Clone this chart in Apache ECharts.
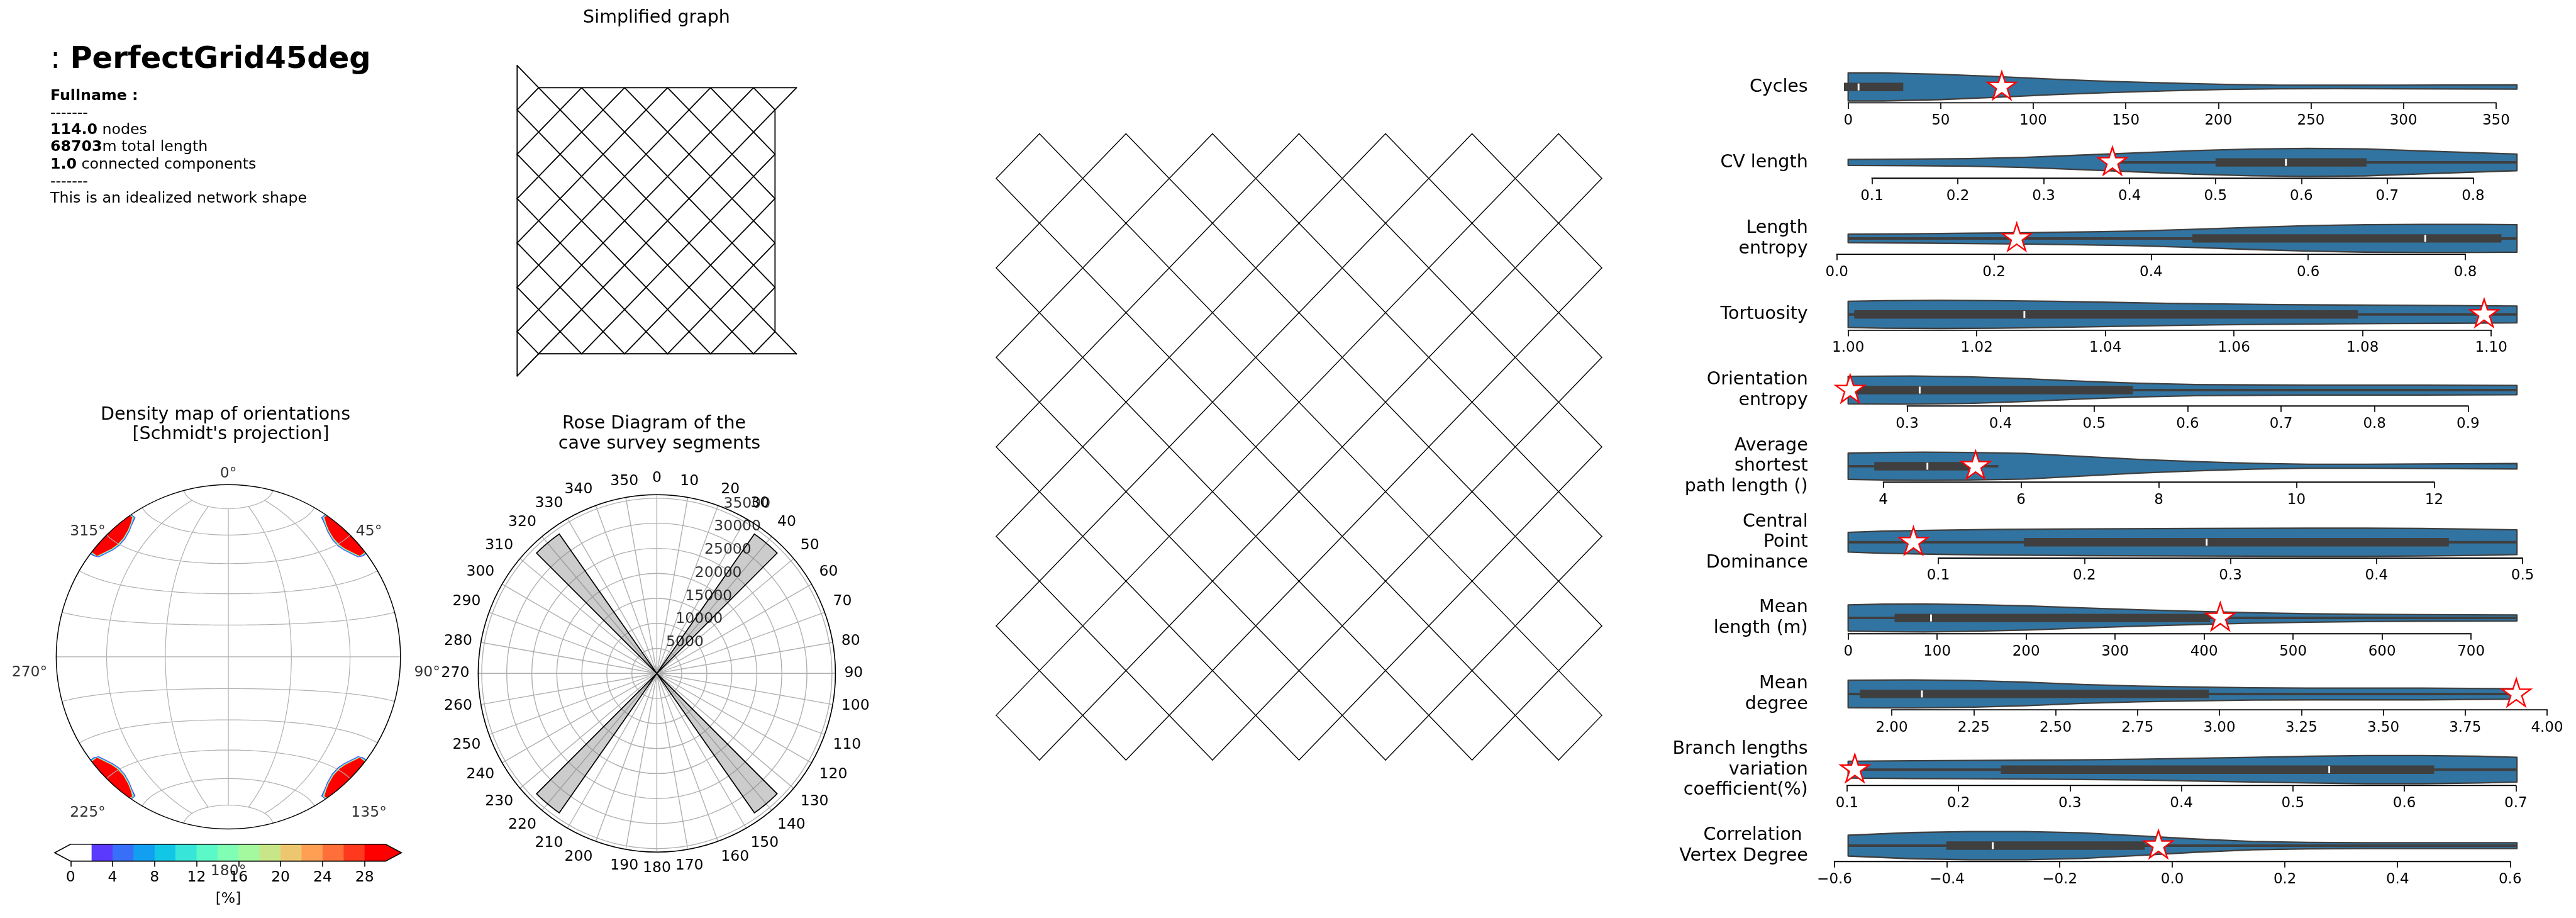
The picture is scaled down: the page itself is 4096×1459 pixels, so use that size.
<!DOCTYPE html>
<html>
<head>
<meta charset="utf-8">
<script src="https://cdn.jsdelivr.net/npm/echarts@6/dist/echarts.min.js"></script>
<style>
html,body{margin:0;padding:0;background:#fff;}
#c{width:4096px;height:1459px;}
</style>
</head>
<body>
<div id="c"></div>
<script>
// ================= DATA =================
const networkName = 'PerfectGrid45deg';
const infoBold = ['Fullname :', '', '114.0', '68703', '1.0', '', ''];
const infoRest = ['', '-------', ' nodes', 'm total length', ' connected components', '-------', 'This is an idealized network shape'];

// main network: 45deg lattice, lines x+y=c and x-y=c inside a square of side netSize
const netSize = 14;
const netSumConsts = [1,3,5,7,9,11,13,15,17,19,21,23,25,27];
const netDiffConsts = [-13,-11,-9,-7,-5,-3,-1,1,3,5,7,9,11,13];

// simplified graph edges [x1,y1,x2,y2]
const simpEdges = [
  [0,-0.5,6.5,6],[1.5,0,6,4.5],[2.5,0,6,3.5],[3.5,0,6,2.5],[4.5,0,6,1.5],[5.5,0,6,0.5],
  [0,0.5,5.5,6],[0,1.5,4.5,6],[0,2.5,3.5,6],[0,3.5,2.5,6],[0,4.5,1.5,6],[0,5.5,0.5,6],
  [0,0.5,0.5,0],[0,1.5,1.5,0],[0,2.5,2.5,0],[0,3.5,3.5,0],[0,4.5,4.5,0],[0,5.5,5.5,0],[0,6.5,6.5,0],
  [1.5,6,6,1.5],[2.5,6,6,2.5],[3.5,6,6,3.5],[4.5,6,6,4.5],[5.5,6,6,5.5],
  [0,-0.5,0,6.5],[0.5,0,6.5,0],[6,0.5,6,5.5],[0.5,6,6.5,6]
];

// stereonet (Schmidt net)
const stereoParallels = [-75,-60,-45,-30,-15,0,15,30,45,60,75];
const stereoMeridians = [-60,-30,0,30,60];
const stereoLabelAz = [0,45,90,135,180,225,270,315];
const blobCenters = [45,135,225,315];
const blobMirror = [1,-1,1,-1];
const blobRimOffsets = [-10,-7,-4,-1,2,5,7.5];
const blobInnerOffsets = [7.5,7.5,6.6,2.3,-0.3,-3.5,-6.7,-8.7,-10.5];
const blobInnerR = [0.99,0.962,0.955,0.925,0.917,0.921,0.94,0.96,0.985];

// colorbar
const cbLevels = [2,4,6,8,10,12,14,16,18,20,22,24,26,28,30];
const cbColors = ['#5b39fd','#376ff9','#129ff1','#12c7e6','#37e6d8','#5bf9c7','#80ffb4','#a4f99f','#c8e688','#edc76f','#ff9f54','#ff6f39','#ff391d','#ff0000'];
const cbTicks = [0,4,8,12,16,20,24,28];

// rose diagram
const roseBinCenters = [40,140,220,320];
const roseValues = [34000,34000,34000,34000];
const roseBinWidth = 10;
const roseRingTicks = [5000,10000,15000,20000,25000,30000,35000];
const roseRMax = 35700;
const roseLabelAngle = 22.5;

// violins
const vioNames = ['Cycles','CV length','Length\nentropy','Tortuosity','Orientation\nentropy','Average\nshortest\npath length ()','Central\nPoint\nDominance','Mean\nlength (m)','Mean\ndegree','Branch lengths\nvariation\ncoefficient(%)','Correlation \nVertex Degree'];
const vioRange = [[0,361.3],[0.0723,0.851],[0.0144,0.8657],[1.0,1.104],[0.2369,0.9523],[3.489,13.203],[0.0383,0.4961],[0,751.6],[1.867,3.908],[0.101,0.701],[-0.5758,0.6121]];
const vioTicks = [
  [0,50,100,150,200,250,300,350],
  [0.1,0.2,0.3,0.4,0.5,0.6,0.7,0.8],
  [0,0.2,0.4,0.6,0.8],
  [1.00,1.02,1.04,1.06,1.08,1.10],
  [0.3,0.4,0.5,0.6,0.7,0.8,0.9],
  [4,6,8,10,12],
  [0.1,0.2,0.3,0.4,0.5],
  [0,100,200,300,400,500,600,700],
  [2.00,2.25,2.50,2.75,3.00,3.25,3.50,3.75,4.00],
  [0.1,0.2,0.3,0.4,0.5,0.6,0.7],
  [-0.6,-0.4,-0.2,0,0.2,0.4,0.6]
];
const vioTickDecimals = [0,1,1,2,1,0,1,0,2,1,1];
const vioProfX = [
  [0,19,50,80,111,141,172,203,233,264,295,325,361.3],
  [0.0723,0.146,0.212,0.278,0.344,0.410,0.476,0.542,0.608,0.674,0.740,0.806,0.851],
  [0.0144,0.095,0.168,0.24,0.312,0.384,0.456,0.528,0.601,0.673,0.745,0.817,0.8657],
  [1.0,1.0055,1.0143,1.0231,1.0319,1.0407,1.0496,1.0584,1.0672,1.076,1.0848,1.0936,1.104],
  [0.2369,0.305,0.366,0.426,0.487,0.548,0.608,0.669,0.730,0.790,0.851,0.9523],
  [3.489,4.0,4.58,5.24,6.06,6.88,7.71,8.53,9.36,10.18,11.01,11.83,13.203],
  [0.0383,0.062,0.101,0.14,0.198,0.276,0.354,0.392,0.431,0.47,0.4961],
  [0,40,85,136,200,263,327,391,455,518,582,646,751.6],
  [1.867,2.06,2.234,2.407,2.58,2.753,2.926,3.1,3.27,3.45,3.62,3.908],
  [0.101,0.158,0.209,0.26,0.311,0.362,0.413,0.464,0.515,0.565,0.616,0.667,0.701],
  [-0.5758,-0.463,-0.362,-0.261,-0.161,-0.06,0.041,0.142,0.242,0.343,0.444,0.6121]
];
const vioProfW = [
  [1.0,1.0,0.90,0.74,0.55,0.40,0.28,0.18,0.13,0.12,0.13,0.14,0.15],
  [0.21,0.23,0.27,0.36,0.52,0.68,0.84,0.95,1.0,0.96,0.82,0.68,0.59],
  [0.30,0.33,0.37,0.40,0.46,0.53,0.65,0.79,0.91,0.98,1.0,1.0,0.98],
  [0.93,0.98,1.0,0.98,0.93,0.86,0.79,0.74,0.70,0.67,0.65,0.63,0.60],
  [0.98,1.0,0.95,0.81,0.63,0.49,0.40,0.37,0.35,0.35,0.35,0.33],
  [0.93,0.98,1.0,0.98,0.91,0.70,0.49,0.33,0.21,0.14,0.14,0.16,0.19],
  [0.70,0.79,0.86,0.91,0.95,0.98,1.0,1.0,0.98,0.93,0.88],
  [0.93,0.98,1.0,0.95,0.86,0.72,0.58,0.47,0.37,0.30,0.26,0.23,0.21],
  [0.98,1.0,0.95,0.84,0.67,0.56,0.49,0.44,0.42,0.42,0.42,0.37],
  [0.60,0.63,0.65,0.67,0.70,0.74,0.81,0.88,0.95,1.0,1.0,0.95,0.88],
  [0.74,0.93,1.0,1.0,0.91,0.70,0.47,0.30,0.23,0.21,0.21,0.21]
];
const vioQ1 = [0,0.505,0.458,1.0016,0.2485,3.93,0.1615,57,1.916,0.2418,-0.394];
const vioQ3 = [27.5,0.671,0.8406,1.0786,0.537,5.20,0.4466,402,2.955,0.6229,-0.0564];
const vioMedian = [5.6,0.582,0.749,1.0274,0.3134,4.64,0.2837,93.1,2.092,0.5326,-0.319];
const vioWhisker = [[0,27.5],[0.375,0.851],[0.0144,0.8657],[1.0,1.104],[0.2369,0.9523],[3.489,5.67],[0.0383,0.4961],[0,751.6],[1.867,3.908],[0.101,0.701],[-0.5758,0.6121]];
const vioStar = [83,0.38,0.229,1.0989,0.239,5.34,0.083,418.2,3.906,0.107,-0.0247];

// ================= LAYOUT / STYLE =================
const FF = '"DejaVu Sans", sans-serif';
const fnt = (s, b) => (b ? 'bold ' : '') + s + 'px ' + FF;
const L = {
  net: {left:1584, top:212.4, width:963, height:995.6},
  simp: {left:822.3, top:104.1, width:444.2, height:493.4},
  stereo: {cx:363.1, cy:1043.9, r:273.7, lim:1.3},
  cb: {left:86.9, top:1341.8, width:551.5, height:26.8, ext:1.52},
  rose: {cx:1044.4, cy:1070.3, r:284},
  vio: {left:2938.7, width:1063.4, half:22.3, ylim:1.13, labelX:2874.7,
        centers:[138.2,258.1,378.9,499.7,620.0,741.0,861.8,982.1,1102.9,1223.2,1344.0]}
};

const grids = [], xAxes = [], yAxes = [], series = [], graphics = [];
const hidden = (gridIndex, min, max, inverse) => ({gridIndex, type:'value', min, max, inverse:!!inverse, show:false,
  axisLine:{show:false, onZero:false}, axisTick:{show:false}, axisLabel:{show:false}, splitLine:{show:false}});
function addGrid(g) { grids.push(Object.assign({outerBoundsMode:'none', containLabel:false, show:false}, g)); return grids.length - 1; }

// ---------- main network ----------
const netSegs = [];
netSumConsts.forEach(c => { const x0 = Math.max(0, c - netSize), x1 = Math.min(netSize, c); netSegs.push([x0, c - x0, x1, c - x1]); });
netDiffConsts.forEach(c => { const x0 = Math.max(0, c), x1 = Math.min(netSize, netSize + c); netSegs.push([x0, x0 - c, x1, x1 - c]); });
function segSeries(gi, data, w) {
  return {type:'custom', coordinateSystem:'cartesian2d', xAxisIndex:gi, yAxisIndex:gi, silent:true, clip:false,
    encode:{x:[0,2], y:[1,3]}, data,
    renderItem:(p, api) => {
      const a = api.coord([api.value(0), api.value(1)]), b = api.coord([api.value(2), api.value(3)]);
      return {type:'line', shape:{x1:a[0], y1:a[1], x2:b[0], y2:b[1]}, style:{stroke:'#000', lineWidth:w, lineCap:'round'}};
    }};
}
let gi = addGrid(L.net);
xAxes.push(hidden(gi, 0, netSize)); yAxes.push(hidden(gi, 0, netSize, true));
series.push(segSeries(gi, netSegs, 1.4));

// ---------- simplified graph ----------
gi = addGrid(L.simp);
xAxes.push(hidden(gi, 0, 6.5)); yAxes.push(hidden(gi, -0.5, 6.5, true));
series.push(segSeries(gi, simpEdges, 1.8));

// ---------- stereonet ----------
const D2R = Math.PI / 180;
function proj(lon, lat) {
  const cl = Math.cos(lat * D2R), k = Math.sqrt(1 + cl * Math.cos(lon * D2R));
  return [cl * Math.sin(lon * D2R) / k, Math.sin(lat * D2R) / k];
}
const polarPt = (az, r) => [r * Math.sin(az * D2R), r * Math.cos(az * D2R)];
const stereoPolys = [];
stereoParallels.forEach(lat => { const pts = []; for (let lon = -90; lon <= 90; lon += 2) pts.push(proj(lon, lat)); stereoPolys.push(pts); });
stereoMeridians.forEach(lon => { const pts = []; for (let lat = -75; lat <= 75; lat += 2) pts.push(proj(lon, lat)); stereoPolys.push(pts); });
const S = L.stereo;
gi = addGrid({left:S.cx - S.lim * S.r, top:S.cy - S.lim * S.r, width:2 * S.lim * S.r, height:2 * S.lim * S.r});
xAxes.push(hidden(gi, -S.lim, S.lim)); yAxes.push(hidden(gi, -S.lim, S.lim));
// blobs
const blobLayers = [['#5b39fd',0.013,0.8],['#12c7e6',0.009,0.55],['#80ffb4',0.006,0.35],['#edc76f',0.003,0.15],['#ff0000',0,0]];
series.push({type:'custom', coordinateSystem:'cartesian2d', xAxisIndex:gi, yAxisIndex:gi, silent:true, clip:false,
  data: blobCenters.map((c, i) => [0, 0, i]),
  renderItem:(p, api) => {
    const i = api.value(2), c = blobCenters[i], m = blobMirror[i];
    const kids = blobLayers.map(([col, dr, da]) => {
      const pts = [];
      blobRimOffsets.forEach((o, j) => {
        let oo = o; if (j === 0) oo -= da; if (j === blobRimOffsets.length - 1) oo += da;
        pts.push(api.coord(polarPt(c + m * oo, 1)));
      });
      blobInnerOffsets.forEach((o, j) => {
        let oo = o; if (j === 0) oo += da; if (j === blobInnerOffsets.length - 1) oo -= da;
        pts.push(api.coord(polarPt(c + m * oo, blobInnerR[j] - dr)));
      });
      return {type:'polygon', shape:{points:pts}, style:{fill:col}};
    });
    return {type:'group', children:kids};
  }});
// graticule
series.push({type:'custom', coordinateSystem:'cartesian2d', xAxisIndex:gi, yAxisIndex:gi, silent:true, clip:false,
  data: stereoPolys.map((q, i) => [0, 0, i]),
  renderItem:(p, api) => ({type:'polyline', shape:{points:stereoPolys[api.value(2)].map(q => api.coord(q))},
    style:{stroke:'#b0b0b0', lineWidth:1.2, fill:'none'}})});
// rim
series.push({type:'custom', coordinateSystem:'cartesian2d', xAxisIndex:gi, yAxisIndex:gi, silent:true, clip:false,
  data:[[0,0]],
  renderItem:(p, api) => {
    const c = api.coord([0, 0]), r = api.size([1, 1])[0];
    return {type:'circle', shape:{cx:c[0], cy:c[1], r}, style:{stroke:'#000', lineWidth:1.5, fill:'none'}};
  }});
// azimuth labels
series.push({type:'scatter', xAxisIndex:gi, yAxisIndex:gi, silent:true, symbolSize:1, itemStyle:{color:'rgba(0,0,0,0)'},
  data: stereoLabelAz.map(az => { const q = polarPt(az, 1.155); return {value:[q[0], q[1] - 0.09], name:az + '\u00b0'}; }),
  label:{show:true, position:'inside', formatter:p => p.name, fontSize:23.5, fontFamily:FF, color:'#000'}});

// ---------- colorbar ----------
const C = L.cb;
gi = addGrid({left:C.left, top:C.top, width:C.width, height:C.height});
xAxes.push({gridIndex:gi, type:'value', min:-C.ext, max:30 + C.ext, axisLine:{show:false, onZero:false}, splitLine:{show:false},
  axisTick:{show:true, customValues:cbTicks, length:9, lineStyle:{color:'#000', width:1.6}},
  axisLabel:{show:true, customValues:cbTicks, formatter:v => String(v), margin:14, fontSize:23.5, fontFamily:FF, color:'#000'}});
yAxes.push(hidden(gi, 0, 1));
series.push({type:'custom', coordinateSystem:'cartesian2d', xAxisIndex:gi, yAxisIndex:gi, silent:true, clip:false,
  data:[[0,0]],
  renderItem:(p, api) => {
    const kids = [];
    const rect = (x0, x1, col) => { const a = api.coord([x0, 1]), b = api.coord([x1, 0]);
      return {type:'rect', shape:{x:a[0], y:a[1], width:b[0] - a[0] + 0.5, height:b[1] - a[1]}, style:{fill:col}}; };
    kids.push(rect(0, cbLevels[0], '#ffffff'));
    for (let i = 0; i < cbColors.length; i++) kids.push(rect(cbLevels[i], cbLevels[i + 1], cbColors[i]));
    const last = cbLevels[cbLevels.length - 1];
    kids.push({type:'polygon', shape:{points:[api.coord([0,1]), api.coord([-C.ext,0.5]), api.coord([0,0])]}, style:{fill:'#ffffff'}});
    kids.push({type:'polygon', shape:{points:[api.coord([last,1]), api.coord([last + C.ext,0.5]), api.coord([last,0])]}, style:{fill:cbColors[cbColors.length - 1]}});
    kids.push({type:'polygon', shape:{points:[api.coord([0,1]), api.coord([last,1]), api.coord([last + C.ext,0.5]), api.coord([last,0]), api.coord([0,0]), api.coord([-C.ext,0.5])]},
      style:{fill:'none', stroke:'#000', lineWidth:1.6}});
    return {type:'group', children:kids};
  }});

// ---------- rose diagram (polar) ----------
series.push({type:'custom', coordinateSystem:'polar', polarIndex:0, silent:true, clip:false,
  data: roseBinCenters.map((c, i) => [roseValues[i], c]),
  renderItem:(p, api) => {
    const r = api.value(0), c = api.value(1), pts = [api.coord([0, c])];
    for (let a = c - roseBinWidth / 2; a <= c + roseBinWidth / 2 + 1e-9; a += 0.5) pts.push(api.coord([r, a]));
    return {type:'polygon', shape:{points:pts}, style:{fill:'rgba(128,128,128,0.4)', stroke:'#000', lineWidth:1.7, lineJoin:'miter'}};
  }});
series.push({type:'scatter', coordinateSystem:'polar', polarIndex:0, silent:true, symbolSize:1, itemStyle:{color:'rgba(0,0,0,0)'},
  data: roseRingTicks.map(v => [v, roseLabelAngle]),
  label:{show:true, position:[0,0], align:'left', verticalAlign:'bottom', formatter:p => String(p.value[0]), fontSize:23.5, fontFamily:FF, color:'#000'}});

// ---------- violins ----------
const V = L.vio;
const starPath = (() => { let d = ''; for (let i = 0; i < 10; i++) { const R = i % 2 ? 38.1966 : 100, a = -Math.PI / 2 + i * Math.PI / 5;
  d += (i ? 'L' : 'M') + (R * Math.cos(a)).toFixed(3) + ' ' + (R * Math.sin(a)).toFixed(3) + ' '; } return 'path://' + d + 'Z'; })();
vioNames.forEach((name, k) => {
  const [vMin, vMax] = vioRange[k], ticks = vioTicks[k];
  const ppu = V.width / (vMax - vMin);
  const aMin = Math.min(vMin, ticks[0]), aMax = Math.max(vMax, ticks[ticks.length - 1]);
  const yc = V.centers[k];
  const g = addGrid({left:V.left - (vMin - aMin) * ppu, width:(aMax - aMin) * ppu, top:yc - V.ylim * V.half, height:2 * V.ylim * V.half});
  const dec = vioTickDecimals[k];
  xAxes.push({gridIndex:g, type:'value', position:'bottom', min:aMin, max:aMax, axisLine:{show:false, onZero:false}, splitLine:{show:false},
    axisTick:{show:true, inside:false, customValues:ticks, length:9.5, lineStyle:{color:'#000', width:1.7}},
    axisLabel:{show:true, customValues:ticks, margin:17, fontSize:23, fontFamily:FF, color:'#000',
      formatter:v => v.toFixed(dec).replace('-', '\u2212')}});
  yAxes.push(hidden(g, -V.ylim, V.ylim));
  series.push({type:'custom', coordinateSystem:'cartesian2d', xAxisIndex:g, yAxisIndex:g, silent:true, clip:false,
    data:[[vMin, 0]],
    renderItem:(p, api) => {
      const X = vioProfX[k], W = vioProfW[k];
      const top = X.map((x, i) => api.coord([x, W[i]]));
      const bot = X.map((x, i) => api.coord([x, -W[i]])).reverse();
      const kids = [];
      kids.push({type:'polygon', shape:{points:top.concat(bot)}, style:{fill:'#3274a1', stroke:'#3f3f3f', lineWidth:2.3, lineJoin:'round'}});
      const w0 = api.coord([vioWhisker[k][0], 0]), w1 = api.coord([vioWhisker[k][1], 0]);
      kids.push({type:'line', shape:{x1:w0[0], y1:w0[1], x2:w1[0], y2:w1[1]}, style:{stroke:'#3f3f3f', lineWidth:4, lineCap:'butt'}});
      const b0 = api.coord([vioQ1[k], 0]), b1 = api.coord([vioQ3[k], 0]), bh = 13.4;
      kids.push({type:'rect', shape:{x:b0[0] - bh / 2, y:b0[1] - bh / 2, width:b1[0] - b0[0] + bh, height:bh}, style:{fill:'#3f3f3f'}});
      const md = api.coord([vioMedian[k], 0]);
      kids.push({type:'rect', shape:{x:md[0] - 1.45, y:md[1] - 5.5, width:2.9, height:11}, style:{fill:'#ffffff'}});
      const a0 = api.coord([ticks[0], -V.ylim]), a1 = api.coord([ticks[ticks.length - 1], -V.ylim]);
      kids.push({type:'line', shape:{x1:a0[0] - 0.85, y1:a0[1], x2:a1[0] + 0.85, y2:a1[1]}, style:{stroke:'#000', lineWidth:1.9}});
      return {type:'group', children:kids};
    }});
  series.push({type:'scatter', xAxisIndex:g, yAxisIndex:g, silent:true, z:5, symbol:starPath, symbolSize:[45.7,43.5], symbolOffset:[0,-2.3],
    itemStyle:{color:'#ffffff', borderColor:'#ff0000', borderWidth:2.3, opacity:1},
    data:[[vioStar[k], 0]]});
  graphics.push({type:'text', x:V.labelX, y:yc, silent:true,
    style:{text:name, font:fnt(28.5), fill:'#000', align:'right', textAlign:'right', verticalAlign:'middle', textVerticalAlign:'middle', lineHeight:32.5}});
});

// ---------- texts ----------
const richStyles = {b:{font:fnt(23.7, true), fill:'#000'}, n:{font:fnt(23.7), fill:'#000'}};
graphics.push({type:'text', x:80, y:96, silent:true,
  style:{text:'{n|: }{b|' + networkName + '}', rich:{n:{font:fnt(48), fill:'#000'}, b:{font:fnt(48, true), fill:'#000'}},
    verticalAlign:'middle', textVerticalAlign:'middle', fill:'#000'}});
infoBold.forEach((b, i) => {
  const t = (b ? '{b|' + b + '}' : '') + (infoRest[i] ? '{n|' + infoRest[i] + '}' : '');
  graphics.push({type:'text', x:80, y:152.4 + 27.3 * i, silent:true,
    style:{text:t, rich:richStyles, verticalAlign:'middle', textVerticalAlign:'middle', fill:'#000'}});
});
const centerText = (x, y, text, size) => ({type:'text', x, y, silent:true,
  style:{text, font:fnt(size), fill:'#000', align:'center', textAlign:'center', verticalAlign:'middle', textVerticalAlign:'middle'}});
graphics.push(centerText(1044, 28.6, 'Simplified graph', 28.5));
graphics.push(centerText(358.5, 659.5, 'Density map of orientations', 28.5));
graphics.push(centerText(367, 691, "[Schmidt's projection]", 28.5));
graphics.push(centerText(1040, 674, 'Rose Diagram of the', 28.5));
graphics.push(centerText(1048.5, 705.5, 'cave survey segments', 28.5));
graphics.push(centerText(363, 1428.4, '[%]', 23.5));

const option = {
  animation:false,
  textStyle:{fontFamily:FF},
  grid:grids, xAxis:xAxes, yAxis:yAxes,
  polar:{center:[L.rose.cx, L.rose.cy], radius:L.rose.r},
  angleAxis:{polarIndex:0, type:'value', min:0, max:360, interval:10, startAngle:90, clockwise:true, z:1,
    axisLine:{show:true, lineStyle:{color:'#000', width:1.6}},
    axisTick:{show:false},
    axisLabel:{show:true, margin:14, fontSize:23.5, fontFamily:FF, color:'#000', formatter:v => (v === 360 ? '' : String(v))},
    splitLine:{show:true, lineStyle:{color:'#b0b0b0', width:1.4}}},
  radiusAxis:{polarIndex:0, type:'value', min:0, max:roseRMax, interval:5000, z:0,
    axisLine:{show:false}, axisTick:{show:false}, axisLabel:{show:false},
    splitLine:{show:true, lineStyle:{color:'#b0b0b0', width:1.4}}},
  series,
  graphic:{elements:graphics}
};
const chart = echarts.init(document.getElementById('c'), null, {renderer:'canvas', width:4096, height:1459});
chart.setOption(option);
</script>
</body>
</html>
